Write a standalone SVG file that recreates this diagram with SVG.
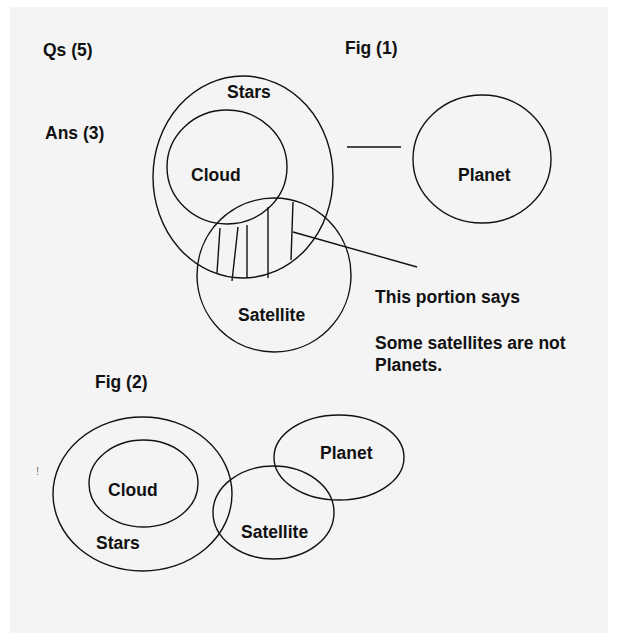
<svg xmlns="http://www.w3.org/2000/svg" width="618" height="642" viewBox="0 0 618 642">
<style>
.shape{fill:none;stroke:#111;stroke-width:1.4}
.ln{stroke:#111;stroke-width:1.4;fill:none}
text{font-family:"Liberation Sans",Arial,sans-serif;font-weight:bold;font-size:17.5px;fill:#111}
</style>
<rect x="0" y="0" width="618" height="642" fill="#ffffff"/>
<rect x="10" y="7" width="598" height="626" fill="#f4f4f4"/>
<g id="labels">
<text x="43" y="56">Qs (5)</text>
<text x="45" y="139">Ans (3)</text>
<text x="345" y="54">Fig (1)</text>
<text x="95" y="388">Fig (2)</text>
<text x="375" y="303">This portion says</text>
<text x="375" y="349">Some satellites are not</text>
<text x="375" y="371">Planets.</text>
<text x="36" y="475" style="font-size:11px;fill:#777;font-weight:normal">!</text>
</g>
<g id="fig1-stars"><ellipse class="shape" cx="243" cy="177" rx="90" ry="101"/><text x="227" y="98">Stars</text></g>
<g id="fig1-cloud"><ellipse class="shape" cx="227" cy="167" rx="60" ry="57"/><text x="191" y="181">Cloud</text></g>
<g id="fig1-satellite"><ellipse class="shape" cx="274" cy="275" rx="77" ry="77"/><text x="238" y="321">Satellite</text></g>
<g id="fig1-planet"><ellipse class="shape" cx="482" cy="159" rx="69" ry="64"/><text x="458" y="181">Planet</text></g>
<g id="fig1-hatch">
<line class="ln" x1="220" y1="228" x2="217" y2="273"/>
<line class="ln" x1="238" y1="227" x2="232" y2="281"/>
<line class="ln" x1="247" y1="225" x2="247" y2="278"/>
<line class="ln" x1="268" y1="207" x2="268" y2="278"/>
<line class="ln" x1="293" y1="202" x2="291" y2="260"/>
</g>
<g id="connectors">
<line class="ln" x1="347" y1="147" x2="401" y2="147"/>
<line class="ln" x1="293" y1="232" x2="417" y2="267"/>
</g>
<g id="fig2-stars"><ellipse class="shape" cx="142.5" cy="494" rx="89.5" ry="77"/><text x="96" y="549">Stars</text></g>
<g id="fig2-cloud"><ellipse class="shape" cx="143.5" cy="483.5" rx="54.5" ry="43.5"/><text x="108" y="496">Cloud</text></g>
<g id="fig2-satellite"><ellipse class="shape" cx="273.5" cy="512.5" rx="60.5" ry="46.5"/><text x="241" y="538">Satellite</text></g>
<g id="fig2-planet"><ellipse class="shape" cx="339" cy="457.5" rx="65" ry="42.5"/><text x="320" y="459">Planet</text></g>
</svg>
